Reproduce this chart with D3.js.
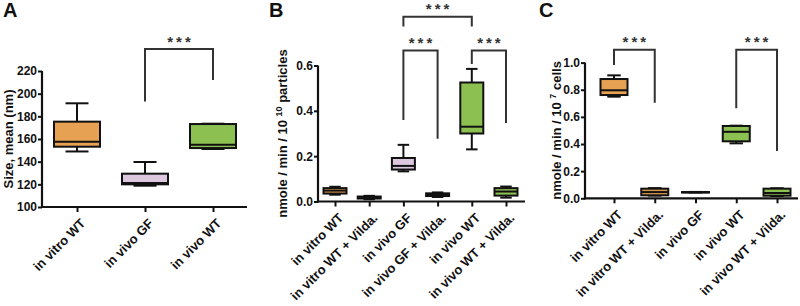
<!DOCTYPE html>
<html>
<head>
<meta charset="utf-8">
<script src="https://cdn.jsdelivr.net/npm/d3@7"></script>
<style>
  body { margin: 0; background: #fff; }
  svg { display: block; }
  text { font-family: Arial, "Liberation Sans", sans-serif; font-weight: bold; fill: #111; }
</style>
</head>
<body>
<div id="chart"></div>
<script>
// ---- data ----
// Panel A : particle size (nm)
const catsA   = ["in vitro WT", "in vivo GF", "in vivo WT"];
const minA    = [149, 118.8, 151.2];
const q1A     = [153.2, 120, 152];
const medA    = [157.6, 121.2, 155];
const q3A     = [175.3, 129.4, 173.2];
const maxA    = [191.5, 139.7, 173.5];
const ticksA  = [100, 120, 140, 160, 180, 200, 220];

// Panel B : activity per 10^10 particles
const catsB   = ["in vitro WT", "in vitro WT + Vilda.", "in vivo GF", "in vivo GF + Vilda.", "in vivo WT", "in vivo WT + Vilda."];
const minB    = [0.030, 0.010, 0.133, 0.020, 0.230, 0.017];
const q1B     = [0.035, 0.013, 0.141, 0.024, 0.300, 0.026];
const medB    = [0.048, 0.017, 0.157, 0.030, 0.330, 0.044];
const q3B     = [0.059, 0.022, 0.192, 0.036, 0.525, 0.059];
const maxB    = [0.065, 0.025, 0.250, 0.040, 0.585, 0.066];
const ticksB  = [0.0, 0.2, 0.4, 0.6];

// Panel C : activity per 10^7 cells
const catsC   = ["in vitro WT", "in vitro WT + Vilda.", "in vivo GF", "in vivo WT", "in vivo WT + Vilda."];
const minC    = [0.749, 0.020, 0.043, 0.405, 0.017];
const q1C     = [0.761, 0.022, 0.044, 0.420, 0.019];
const medC    = [0.796, 0.046, 0.045, 0.490, 0.039];
const q3C     = [0.879, 0.071, 0.046, 0.533, 0.071];
const maxC    = [0.906, 0.075, 0.047, 0.535, 0.074];
const ticksC  = [0.0, 0.2, 0.4, 0.6, 0.8, 1.0];

// significance brackets: [from, to, bar level, left leg end, right leg end]
const sigA = [["in vivo GF", "in vivo WT", 239.4, 193, 212]];
const sigB = [
  ["in vivo GF", "in vivo WT", 0.815, 0.772, 0.772],
  ["in vivo GF", "in vivo GF + Vilda.", 0.666, 0.36, 0.277],
  ["in vivo WT", "in vivo WT + Vilda.", 0.666, 0.607, 0.346]
];
const sigC = [
  ["in vitro WT", "in vitro WT + Vilda.", 1.095, 0.982, 0.704],
  ["in vivo WT", "in vivo WT + Vilda.", 1.095, 0.663, 0.349]
];

// ---- styles ----
const fillColor = {
  "in vitro WT": "#e6a152",
  "in vitro WT + Vilda.": "#d9964c",
  "in vivo GF": "#dcc7df",
  "in vivo GF + Vilda.": "#dcc7df",
  "in vivo WT": "#8cc051",
  "in vivo WT + Vilda.": "#8cc051"
};

const svg = d3.select("#chart").append("svg")
  .attr("width", 800).attr("height", 306);

function zip(cats, mn, a, m, b, mx) {
  return cats.map((c, i) => ({cat: c, min: mn[i], q1: a[i], med: m[i], q3: b[i], max: mx[i]}));
}

function drawPanel(p) {
  const g = svg.append("g");
  const y = d3.scaleLinear().domain(p.yDomain).range([p.y0, p.y1]);
  const x = d3.scalePoint().domain(p.cats).range([p.xFirst, p.xLast]);
  const bw = p.boxW;

  // y axis
  const yAx = g.append("g").attr("transform", `translate(${p.axisX},0)`)
    .call(d3.axisLeft(y).tickValues(p.ticks).tickFormat(p.fmt).tickSizeOuter(0).tickSize(4));
  yAx.select(".domain").attr("stroke", "#111").attr("stroke-width", 2.2)
    .attr("d", `M0,${p.y0 + 1}V${p.y1}`);
  yAx.selectAll(".tick line").attr("stroke", "#111").attr("stroke-width", 2);
  yAx.selectAll(".tick text").attr("x", -5).style("font-size", "12px")
    .style("font-family", "Arial, 'Liberation Sans', sans-serif").style("font-weight", "bold");

  // x axis
  const xAx = g.append("g").attr("transform", `translate(0,${p.y0})`)
    .call(d3.axisBottom(x).tickSize(5).tickSizeOuter(0).tickFormat(""));
  xAx.select(".domain").attr("stroke", "#111").attr("stroke-width", 2.2)
    .attr("d", `M${p.axisX - 1},0H${p.axisEnd}`);
  xAx.selectAll(".tick line").attr("stroke", "#111").attr("stroke-width", 2);

  // rotated category labels
  g.selectAll("text.cat").data(p.cats).join("text")
    .attr("class", "cat")
    .attr("transform", d => `translate(${x(d) + 6},${p.y0 + 14}) rotate(-45)`)
    .attr("text-anchor", "end")
    .attr("dy", "0.35em")
    .style("font-size", "13px")
    .text(d => d);

  // boxes
  const boxes = g.selectAll("g.box").data(p.stats).join("g").attr("class", "box")
    .attr("transform", d => `translate(${x(d.cat)},0)`);
  boxes.append("line")
    .attr("x1", 0).attr("x2", 0)
    .attr("y1", d => y(d.max)).attr("y2", d => y(d.min))
    .attr("stroke", "#111").attr("stroke-width", 2);
  boxes.append("line")
    .attr("x1", -bw / 4).attr("x2", bw / 4)
    .attr("y1", d => y(d.max)).attr("y2", d => y(d.max))
    .attr("stroke", "#111").attr("stroke-width", 2);
  boxes.append("line")
    .attr("x1", -bw / 4).attr("x2", bw / 4)
    .attr("y1", d => y(d.min)).attr("y2", d => y(d.min))
    .attr("stroke", "#111").attr("stroke-width", 2);
  boxes.append("rect")
    .attr("x", -bw / 2).attr("width", bw)
    .attr("y", d => y(d.q3)).attr("height", d => Math.max(0.5, y(d.q1) - y(d.q3)))
    .attr("fill", d => fillColor[d.cat])
    .attr("stroke", "#111").attr("stroke-width", 2);
  boxes.append("line")
    .attr("x1", -bw / 2).attr("x2", bw / 2)
    .attr("y1", d => y(d.med)).attr("y2", d => y(d.med))
    .attr("stroke", "#111").attr("stroke-width", 2);

  // significance brackets
  const sg = g.selectAll("g.sig").data(p.sig).join("g").attr("class", "sig");
  sg.append("path")
    .attr("d", d => `M${x(d[0])},${y(d[3])}V${y(d[2])}H${x(d[1])}V${y(d[4])}`)
    .attr("fill", "none").attr("stroke", "#333").attr("stroke-width", 2);
  sg.append("text")
    .attr("x", d => (x(d[0]) + x(d[1])) / 2 + 1.5)
    .attr("y", d => y(d[2]) - 2.5)
    .attr("text-anchor", "middle")
    .style("font-size", "15px")
    .style("letter-spacing", "3px")
    .style("fill", "#333")
    .text("***");

  // y title
  const t = g.append("text")
    .attr("transform", `translate(${p.titleX},${(p.y0 + p.y1) / 2}) rotate(-90)`)
    .attr("text-anchor", "middle")
    .style("font-size", "13px");
  p.title.forEach(part => {
    if (part.sup) {
      t.append("tspan").attr("dy", "-5").style("font-size", "9px").text(part.text);
      t.append("tspan").attr("dy", "5").text(" ");
    } else {
      t.append("tspan").text(part.text);
    }
  });

  // panel letter
  g.append("text").attr("x", p.letterX).attr("y", 17)
    .style("font-size", "20px").text(p.letter);
}

drawPanel({
  letter: "A", letterX: 3,
  cats: catsA, stats: zip(catsA, minA, q1A, medA, q3A, maxA),
  yDomain: [100, 220], ticks: ticksA, fmt: d3.format("d"),
  y0: 207, y1: 71, axisX: 42, axisEnd: 247, xFirst: 77, xLast: 213, boxW: 46,
  sig: sigA, titleX: 13,
  title: [{text: "Size, mean (nm)"}]
});

drawPanel({
  letter: "B", letterX: 269,
  cats: catsB, stats: zip(catsB, minB, q1B, medB, q3B, maxB),
  yDomain: [0, 0.6], ticks: ticksB, fmt: d3.format(".1f"),
  y0: 201.5, y1: 65.5, axisX: 318, axisEnd: 525, xFirst: 335, xLast: 506, boxW: 23,
  sig: sigB, titleX: 287,
  title: [{text: "nmole / min / 10 "}, {text: "10", sup: true}, {text: "particles"}]
});

drawPanel({
  letter: "C", letterX: 539,
  cats: catsC, stats: zip(catsC, minC, q1C, medC, q3C, maxC),
  yDomain: [0, 1.0], ticks: ticksC, fmt: d3.format(".1f"),
  y0: 198.3, y1: 62.6, axisX: 585, axisEnd: 798, xFirst: 614, xLast: 777, boxW: 27,
  sig: sigC, titleX: 561,
  title: [{text: "nmole / min / 10 "}, {text: "7", sup: true}, {text: "cells"}]
});
</script>
</body>
</html>
